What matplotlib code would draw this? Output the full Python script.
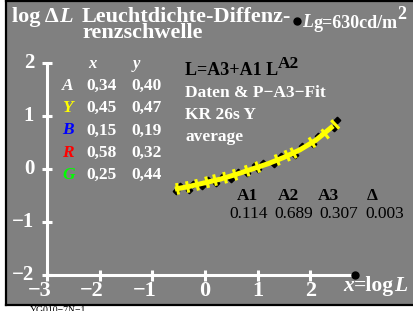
import numpy as np
import matplotlib
matplotlib.use('Agg')
import matplotlib.pyplot as plt

plt.rcParams['font.family'] = ['Liberation Serif', 'DejaVu Serif']

# fitted curve
fit_x = [-0.57, -0.3, 0.0, 0.3, 0.6, 0.9, 1.2, 1.5, 1.8, 2.1, 2.43]
fit_y = [-0.37, -0.32, -0.25, -0.18, -0.09, 0.01, 0.11, 0.23, 0.37, 0.55, 0.82]

# measured points (black dots)
pts_x = [-0.55, -0.48, -0.3, -0.22, -0.05, 0.05, 0.2, 0.35, 0.5, 0.62, 0.8,
         0.95, 1.0, 1.1, 1.3, 1.45, 1.7, 1.85, 2.05, 2.15, 2.45, 2.5]
pts_y = [-0.41, -0.32, -0.38, -0.27, -0.31, -0.20, -0.25, -0.13, -0.18, -0.05, -0.06,
         0.08, 0.01, 0.13, 0.11, 0.26, 0.28, 0.45, 0.48, 0.63, 0.79, 0.93]

# yellow bars across the curve
bar_x = [-0.52, -0.33, -0.15, 0.04, 0.19, 0.38, 0.57, 0.80, 1.0, 1.37, 1.56, 1.68, 2.03, 2.28, 2.47]
bar_y = [-0.365, -0.33, -0.29, -0.24, -0.20, -0.155, -0.10, -0.025, 0.045, 0.18, 0.26, 0.31, 0.51, 0.67, 0.85]

xticks = [-3, -2, -1, 0, 1, 2]
yticks = [-2, -1, 0, 1, 2]

tab_letters = ['A', 'Y', 'B', 'R', 'G']
tab_colors = ['white', '#ffff00', '#0000ff', '#ff0000', '#00ff00']
tab_x = ['0,34', '0,45', '0,15', '0,58', '0,25']
tab_y = ['0,40', '0,47', '0,19', '0,32', '0,44']

coef_names = ['A1', 'A2', 'A3', 'Δ']
coef_vals = ['0.114', '0.689', '0.307', '0.003']

W, H = 413, 311
fig = plt.figure(figsize=(W / 100, H / 100), dpi=100)
ax = fig.add_axes([6 / W, 6 / H, 407 / W, 304 / H])
ax.set_xlim(-3.776, 3.947)
ax.set_ylim(-2.557, 3.179)
ax.set_facecolor('#808080')
ax.set_xticks([])
ax.set_yticks([])
for s in ['left', 'top', 'bottom']:
    ax.spines[s].set_linewidth(1.6)
    ax.spines[s].set_color('black')
ax.spines['right'].set_visible(False)
renderer = fig.canvas.get_renderer()


def P(x, y):
    return x / W, 1 - y / H


def chain(x, y, parts):
    # parts: (text, fontsize, style, colour, raise in px)
    for txt, fs, st, col, up in parts:
        t = fig.text(*P(x, y - up), txt, color=col, fontsize=fs, fontweight='bold', style=st)
        x = t.get_window_extent(renderer).x1


# axes drawn in white
ax.plot([-3, -3], [-2, 2], color='white', lw=2.2, solid_capstyle='butt')
ax.plot([-3, 2.85], [-2, -2], color='white', lw=2.2, solid_capstyle='butt')
for y in yticks:
    ax.plot([-3.1, -2.9], [y, y], color='white', lw=2.2, solid_capstyle='butt')
    lab = str(y).replace('-', '−')
    ax.text(-3.24, y, lab, color='white', fontsize=15, fontweight='bold',
            ha='right', va='center')
for x in xticks:
    ax.plot([x, x], [-2.1, -1.9], color='white', lw=2.2, solid_capstyle='butt')
    lab = str(x).replace('-', '−')
    off = -0.14 if x < 0 else 0
    ax.text(x + off, -2.3, lab, color='white', fontsize=16, fontweight='bold',
            ha='center', va='center')
ax.plot([2.85], [-2], 'o', color='black', ms=5)
ax.plot([1.74], [2.81], 'o', color='black', ms=5)

# data
ax.plot(fit_x, fit_y, color='#ffff00', lw=3.6, solid_capstyle='butt', zorder=3)
bx = np.array(bar_x)
by = np.array(bar_y)
dx = np.gradient(bx)
dy = np.gradient(by)
n = np.hypot(dx, dy)
px, py = -dy / n, dx / n
half = 0.11
for i in range(len(bx)):
    ax.plot([bx[i] - half * px[i], bx[i] + half * px[i]],
            [by[i] - half * py[i], by[i] + half * py[i]],
            color='#ffff00', lw=2.2, solid_capstyle='butt', zorder=4)
ax.plot(pts_x, pts_y, 'D', color='black', ms=3.3, zorder=2)

# header text
chain(12, 22, [('log Δ', 16, 'normal', 'white', 0), ('L', 16, 'italic', 'white', 0)])
fig.text(*P(82, 22), 'Leuchtdichte-Diffenz-', color='white', fontsize=16, fontweight='bold')
fig.text(*P(82, 38.5), 'renzschwelle', color='white', fontsize=16, fontweight='bold')
chain(302, 27, [('L', 13, 'italic', 'white', 0), ('g=630cd/m', 13, 'normal', 'white', -1),
                ('2', 13, 'normal', 'white', 8)])

# table
fig.text(*P(88, 68), 'x', color='white', fontsize=12, fontweight='bold', style='italic')
fig.text(*P(133, 68), 'y', color='white', fontsize=12, fontweight='bold', style='italic')
for i in range(len(tab_letters)):
    yb = 90 + i * 22.2
    fig.text(*P(62, yb), tab_letters[i], color=tab_colors[i], fontsize=12.5,
             fontweight='bold', style='italic')
    fig.text(*P(86, yb), tab_x[i], color='white', fontsize=12.5, fontweight='bold')
    fig.text(*P(131, yb), tab_y[i], color='white', fontsize=12.5, fontweight='bold')

# model description
chain(185, 75, [('L=A3+A1 L', 13, 'normal', 'black', 0), ('A2', 12.5, 'normal', 'black', 7)])
fig.text(*P(185, 97), 'Daten & P−A3−Fit', color='white', fontsize=12.5, fontweight='bold')
fig.text(*P(185, 119), 'KR 26s Y', color='white', fontsize=12.5, fontweight='bold')
fig.text(*P(185, 141), 'average', color='white', fontsize=12.5, fontweight='bold')

hx = [237, 278, 318, 367]
vx = [229, 274, 319, 365]
for i in range(4):
    fig.text(*P(hx[i], 200), coef_names[i], color='black', fontsize=12.5, fontweight='bold')
    fig.text(*P(vx[i], 218), coef_vals[i], color='black', fontsize=12.5)

chain(343, 291, [('x', 15.5, 'italic', 'white', 0), ('=log', 15.5, 'normal', 'white', 0),
                 ('L', 15.5, 'italic', 'white', 0)])
fig.text(*P(30, 313), 'YG010−7N−1', color='black', fontsize=7)

fig.savefig('out.png', dpi=100)
